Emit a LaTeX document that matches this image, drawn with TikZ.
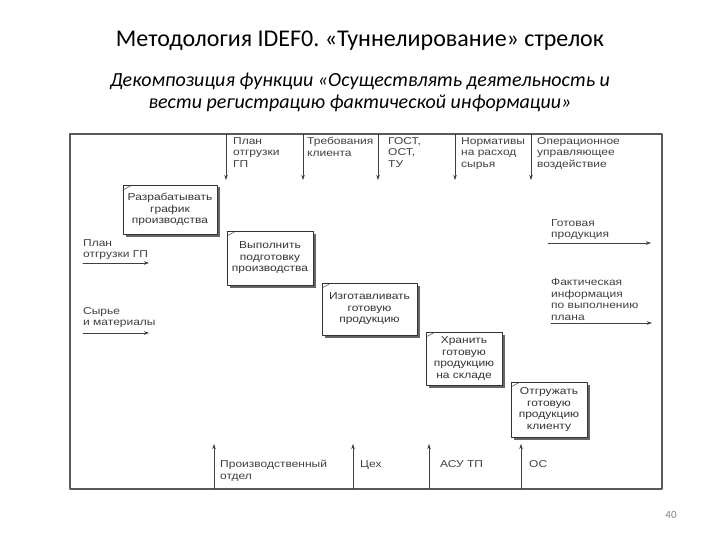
\documentclass[tikz,border=0pt]{standalone}
\usepackage{fontspec}
\setmainfont{Carlito}
\newfontfamily\diafont[FakeStretch=1.2]{Liberation Sans}
\usetikzlibrary{arrows.meta,shadows}
\frenchspacing

\begin{document}
\begin{tikzpicture}[x=1pt,y=-1pt,line cap=round,line join=round,
  func/.style={draw=black!80,fill=white,line width=0.7pt,align=center,inner sep=1pt,
    font=\diafont\fontsize{10}{11.5}\selectfont,text=black!80,
    drop shadow={shadow xshift=2.5pt,shadow yshift=-2.5pt,fill=black!60,opacity=1},
    path picture={\draw[black!70,line width=0.5pt]
      ([yshift=-5pt]path picture bounding box.north west)--([xshift=9pt]path picture bounding box.north west);}},
  lbl/.style={inner sep=0pt,align=left,font=\diafont\fontsize{10}{11.5}\selectfont,text=black!75},
  flow/.style={draw=black!75,line width=0.7pt,-{Stealth[length=5pt,width=3.5pt]}}]
  \useasboundingbox (0,0) rectangle (720,540);

  % Slide heading
  \node[font=\fontsize{24}{28}\selectfont] (title) at (360,41)
    {Методология IDEF0. «Туннелирование» стрелок};
  \node[font=\itshape\fontsize{20}{22}\selectfont,align=center] (subtitle) at (360,92)
    {Декомпозиция функции «Осуществлять деятельность и\\вести регистрацию фактической информации»};

  % Diagram frame
  \coordinate (fnw) at (70,134);
  \coordinate (fse) at (662,489);
  \draw[black!65,line width=1.1pt] (fnw) rectangle (fse);

  % Function blocks, stepping down to the right
  \node[func,minimum width=94pt,minimum height=49pt] (a1) at (170,209.5)
    {Разрабатывать\\график\\производства};
  \node[func,minimum width=86pt,minimum height=54pt] (a2) at (270,258)
    {Выполнить\\подготовку\\производства};
  \node[func,minimum width=95pt,minimum height=52pt] (a3) at (369.5,309)
    {Изготавливать\\готовую\\продукцию};
  \node[func,minimum width=76pt,minimum height=53pt] (a4) at (464,358.5)
    {Хранить\\готовую\\продукцию\\на складе};
  \node[func,minimum width=76pt,minimum height=55pt] (a5) at (549,409.5)
    {Отгружать\\готовую\\продукцию\\клиенту};

  % Controls from the top edge (tunnelled: they stop short of the blocks)
  \coordinate (c1a) at (226,134); \coordinate (c1b) at (226,180);
  \coordinate (c2a) at (303,134); \coordinate (c2b) at (303,180);
  \coordinate (c3a) at (378,134); \coordinate (c3b) at (378,180);
  \coordinate (c4a) at (455,134); \coordinate (c4b) at (455,180);
  \coordinate (c5a) at (531,134); \coordinate (c5b) at (531,180);
  \draw[flow] (c1a)--(c1b);
  \draw[flow] (c2a)--(c2b);
  \draw[flow] (c3a)--(c3b);
  \draw[flow] (c4a)--(c4b);
  \draw[flow] (c5a)--(c5b);
  \node[lbl,anchor=north west] (c1t) at (233,137) {План\\отгрузки\\ГП};
  \node[lbl,anchor=north west] (c2t) at (307,137) {Требования\\клиента};
  \node[lbl,anchor=north west] (c3t) at (388,137) {ГОСТ,\\ОСТ,\\ТУ};
  \node[lbl,anchor=north west] (c4t) at (461,137) {Нормативы\\на расход\\сырья};
  \node[lbl,anchor=north west] (c5t) at (537,137) {Операционное\\управляющее\\воздействие};

  % Inputs on the left
  \coordinate (i1a) at (83,263); \coordinate (i1b) at (149,263);
  \coordinate (i2a) at (83,333); \coordinate (i2b) at (149,333);
  \draw[flow] (i1a)--(i1b);
  \draw[flow] (i2a)--(i2b);
  \node[lbl,anchor=south west] (i1t) at (83,260) {План\\отгрузки ГП};
  \node[lbl,anchor=south west] (i2t) at (83,328) {Сырье\\и материалы};

  % Outputs on the right
  \coordinate (o1a) at (548,243); \coordinate (o1b) at (651,243);
  \coordinate (o2a) at (551,323); \coordinate (o2b) at (652,323);
  \draw[flow] (o1a)--(o1b);
  \draw[flow] (o2a)--(o2b);
  \node[lbl,anchor=south west] (o1t) at (551,240) {Готовая\\продукция};
  \node[lbl,anchor=south west] (o2t) at (551,320.5) {Фактическая\\информация\\по выполнению\\плана};

  % Mechanisms from the bottom edge
  \coordinate (m1a) at (214,489); \coordinate (m1b) at (214,444);
  \coordinate (m2a) at (353,489); \coordinate (m2b) at (353,444);
  \coordinate (m3a) at (429,489); \coordinate (m3b) at (429,444);
  \coordinate (m4a) at (521,489); \coordinate (m4b) at (521,444);
  \draw[flow] (m1a)--(m1b);
  \draw[flow] (m2a)--(m2b);
  \draw[flow] (m3a)--(m3b);
  \draw[flow] (m4a)--(m4b);
  \node[lbl,anchor=north west] (m1t) at (220,460) {Производственный\\отдел};
  \node[lbl,anchor=north west] (m2t) at (360,460) {Цех};
  \node[lbl,anchor=north west] (m3t) at (440,460) {АСУ ТП};
  \node[lbl,anchor=north west] (m4t) at (529,460) {ОС};

  % Page number
  \node[text=black!50,font=\fontsize{11}{13}\selectfont] (pnum) at (671,515) {40};
\end{tikzpicture}
\end{document}
